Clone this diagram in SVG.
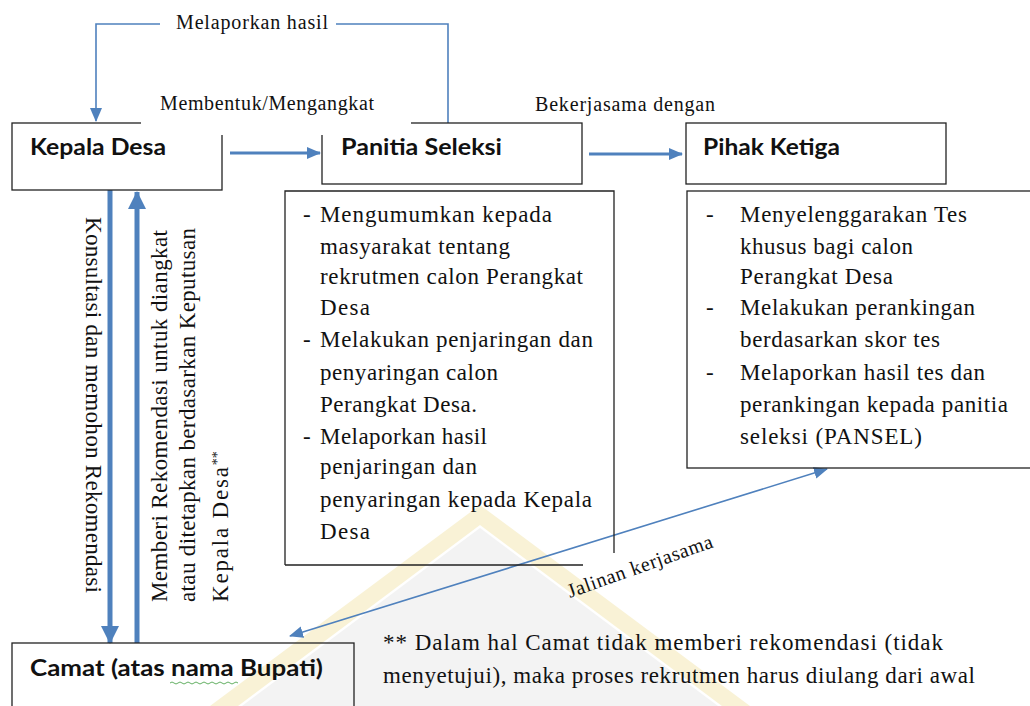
<svg xmlns="http://www.w3.org/2000/svg" width="1030" height="706" viewBox="0 0 1030 706">
<style>
.box{fill:none;stroke:#222;stroke-width:1.3}
.ttl{font-family:Lato,"Open Sans",sans-serif;font-weight:bold;font-size:22px;fill:#111}
.tx{font-family:"Liberation Serif","Times New Roman",serif;font-size:23px;fill:#111}
.lb{font-family:"Liberation Serif","Times New Roman",serif;font-size:20px;fill:#111}
.ln{fill:none;stroke:#4F81BD;stroke-width:1.6}
.ar{fill:none;stroke:#4F81BD;stroke-width:3}
.th{fill:none;stroke:#4F81BD;stroke-width:5}
</style>
<defs>
<marker id="ah" markerUnits="userSpaceOnUse" markerWidth="14" markerHeight="12" refX="13" refY="6" orient="auto"><path d="M0,0 L14,6 L0,12 z" fill="#4F81BD"/></marker>
<marker id="ahs" markerUnits="userSpaceOnUse" markerWidth="14" markerHeight="12" refX="13" refY="6" orient="auto-start-reverse"><path d="M0,0 L14,6 L0,12 z" fill="#4F81BD"/></marker>
<marker id="ahb" markerUnits="userSpaceOnUse" markerWidth="18" markerHeight="18" refX="17" refY="9" orient="auto"><path d="M0,0 L18,9 L0,18 z" fill="#4F81BD"/></marker>
</defs>
<rect width="1030" height="706" fill="#fff"/>
<g id="watermark" opacity="0.35">
<polygon points="480,505 750,706 722,706 480,525 238,706 210,706" fill="#eedc8c"/>
<polygon points="480,528 718,706 242,706" fill="#dedede"/>
</g>
<g id="connectors">
<path class="ln" d="M448,123 V24 H96 V121" marker-end="url(#ah)"/>
<line class="ar" x1="230" y1="153" x2="320" y2="153" marker-end="url(#ah)"/>
<line class="ar" x1="589" y1="154" x2="682" y2="154" marker-end="url(#ah)"/>
<line class="th" x1="110" y1="190" x2="110" y2="643" marker-end="url(#ahb)"/>
<line class="th" x1="137" y1="643" x2="137" y2="192" marker-end="url(#ahb)"/>
<line class="ln" stroke-width="2" x1="290" y1="636" x2="827" y2="469" marker-start="url(#ahs)" marker-end="url(#ah)"/>
<rect x="160" y="12" width="176" height="26" fill="#fff"/>
<text class="lb" x="176" y="29" textLength="152" lengthAdjust="spacing">Melaporkan hasil</text>
<text class="lb" x="535" y="111" textLength="180" lengthAdjust="spacing">Bekerjasama dengan</text>
<text class="lb" font-size="15.5" transform="translate(570,598) rotate(-19.5)" textLength="153" lengthAdjust="spacing">Jalinan kerjasama</text>
<text class="tx" font-size="22" transform="translate(86,217) rotate(90)" textLength="376" lengthAdjust="spacing">Konsultasi dan memohon Rekomendasi</text>
<text class="tx" font-size="22" transform="translate(167,602) rotate(-90)" textLength="372" lengthAdjust="spacing">Memberi Rekomendasi untuk diangkat</text>
<text class="tx" font-size="22" transform="translate(195,602) rotate(-90)" textLength="374" lengthAdjust="spacing">atau ditetapkan berdasarkan Keputusan</text>
<text class="tx" font-size="22" transform="translate(228,602) rotate(-90)"><tspan textLength="135" lengthAdjust="spacing">Kepala Desa</tspan><tspan font-size="14" dy="-6">**</tspan></text>
</g>
<g id="kepala-desa">
<rect class="box" x="12" y="123" width="210" height="67"/>
<text class="ttl" x="30" y="155" textLength="136" lengthAdjust="spacingAndGlyphs">Kepala Desa</text>
</g>
<g id="panitia-seleksi">
<rect class="box" x="322" y="123" width="260" height="61"/>
<text class="ttl" x="341" y="155" textLength="161" lengthAdjust="spacingAndGlyphs">Panitia Seleksi</text>
</g>
<g id="membentuk-label">
<rect x="141" y="88" width="270" height="47" fill="#fff"/>
<text class="lb" x="160" y="110" textLength="214" lengthAdjust="spacing">Membentuk/Mengangkat</text>
</g>
<g id="pihak-ketiga">
<rect class="box" x="686" y="123" width="260" height="61"/>
<text class="ttl" x="703" y="155" textLength="137" lengthAdjust="spacingAndGlyphs">Pihak Ketiga</text>
</g>
<g id="panitia-tugas">
<path class="box" d="M285,565 V191 H614 V553 M285,565 H583"/>
<g class="tx">
<text x="303" y="222">-</text>
<text x="320" y="222" textLength="232" lengthAdjust="spacing">Mengumumkan kepada</text>
<text x="320" y="254" textLength="190" lengthAdjust="spacing">masyarakat tentang</text>
<text x="320" y="284" textLength="263" lengthAdjust="spacing">rekrutmen calon Perangkat</text>
<text x="320" y="315" textLength="50" lengthAdjust="spacing">Desa</text>
<text x="303" y="347">-</text>
<text x="320" y="347" textLength="273" lengthAdjust="spacing">Melakukan penjaringan dan</text>
<text x="320" y="380" textLength="178" lengthAdjust="spacing">penyaringan calon</text>
<text x="320" y="412" textLength="157" lengthAdjust="spacing">Perangkat Desa.</text>
<text x="303" y="444">-</text>
<text x="320" y="444" textLength="167" lengthAdjust="spacing">Melaporkan hasil</text>
<text x="320" y="474" textLength="157" lengthAdjust="spacing">penjaringan dan</text>
<text x="320" y="507" textLength="272" lengthAdjust="spacing">penyaringan kepada Kepala</text>
<text x="320" y="539" textLength="50" lengthAdjust="spacing">Desa</text>
</g>
</g>
<g id="pihak-tugas">
<rect class="box" x="687" y="191" width="360" height="277"/>
<g class="tx">
<text x="706" y="222">-</text>
<text x="740" y="222" textLength="227" lengthAdjust="spacing">Menyelenggarakan Tes</text>
<text x="740" y="254" textLength="173" lengthAdjust="spacing">khusus bagi calon</text>
<text x="740" y="284" textLength="153" lengthAdjust="spacing">Perangkat Desa</text>
<text x="706" y="315">-</text>
<text x="740" y="315" textLength="235" lengthAdjust="spacing">Melakukan perankingan</text>
<text x="740" y="347" textLength="200" lengthAdjust="spacing">berdasarkan skor tes</text>
<text x="706" y="380">-</text>
<text x="740" y="380" textLength="245" lengthAdjust="spacing">Melaporkan hasil tes dan</text>
<text x="740" y="412" textLength="268" lengthAdjust="spacing">perankingan kepada panitia</text>
<text x="740" y="444" textLength="182" lengthAdjust="spacing">seleksi (PANSEL)</text>
</g>
</g>
<g id="camat">
<rect class="box" x="12" y="643" width="342" height="70"/>
<text class="ttl" x="30" y="676" textLength="293" lengthAdjust="spacingAndGlyphs">Camat (atas nama Bupati)</text>
<path d="M170,683 q2,-2 4,0 t4,0 t4,0 t4,0 t4,0 t4,0 t4,0 t4,0 t4,0 t4,0 t4,0 t4,0 t4,0 t4,0 t4,0 t4,0 t4,0" fill="none" stroke="#3a9a3a" stroke-width="0.8"/>
</g>
<g id="footnote" class="tx">
<text x="383" y="650" textLength="560" lengthAdjust="spacing">** Dalam hal Camat tidak memberi rekomendasi (tidak</text>
<text x="383" y="683" textLength="592" lengthAdjust="spacing">menyetujui), maka proses rekrutmen harus diulang dari awal</text>
</g>
</svg>
